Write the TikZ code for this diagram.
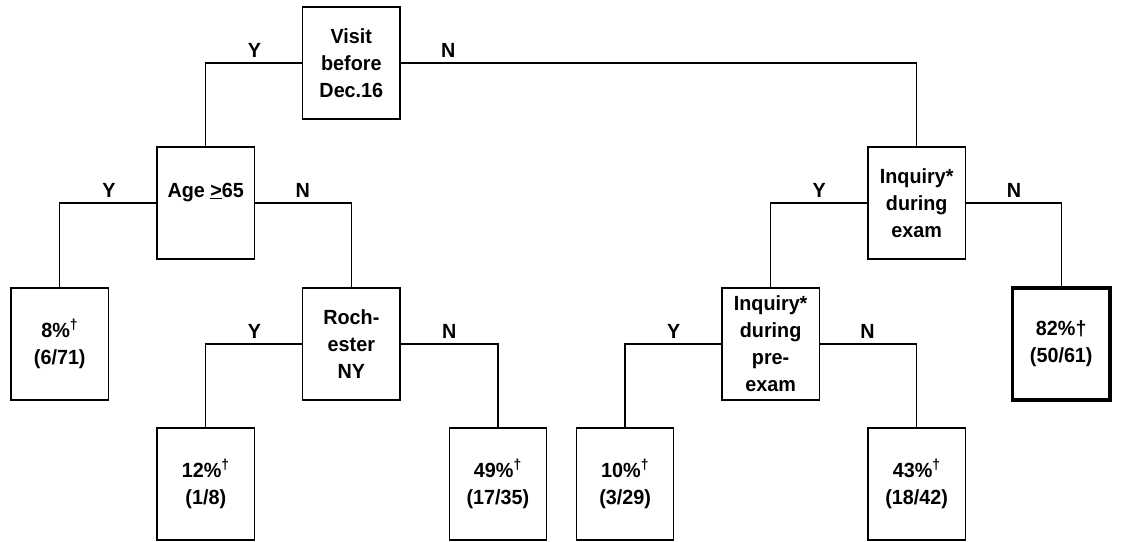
\documentclass[tikz,border=0pt]{standalone}
\usepackage{fontspec}
\setmainfont{Liberation Sans}[FakeStretch=0.964]
\begin{document}
\begin{tikzpicture}[x=0.9639pt,y=-1pt,
  txt/.style={font=\bfseries\fontsize{20.5}{27}\selectfont},
  box/.style={draw, line width=1.3pt, minimum width=97.4pt, minimum height=112pt, inner sep=0pt, align=center, txt},
  thickbox/.style={box, line width=3.3pt},
  lbl/.style={anchor=base, inner sep=0pt, txt},
  conn/.style={line width=1.3pt}]
\useasboundingbox (0,0) rectangle (1191,541);
% decision boxes
\node[box] (visit) at (364.5,63) {Visit\\before\\Dec.16};
\node[box] (age) at (213.5,203) {};
\node[lbl] (agetxt) at (213.5,197) {Age \underline{>}65};
\node[box] (roch) at (364.5,344) {Roch-\\ester\\NY};
\node[box] (inqx) at (951,203) {Inquiry*\\during\\exam};
\node[box] (prex) at (799.5,344) {Inquiry*\\during\\pre-\\exam};
% leaves
\node[box] (l8) at (62,344) {8\%\textsuperscript{†}\\(6/71)};
\node[box] (l12) at (213.5,484) {12\%\textsuperscript{†}\\(1/8)};
\node[box] (l49) at (516.5,484) {49\%\textsuperscript{†}\\(17/35)};
\node[box] (l10) at (648.5,484) {10\%\textsuperscript{†}\\(3/29)};
\node[box] (l43) at (951,484) {43\%\textsuperscript{†}\\(18/42)};
\node[thickbox] (l82) at (1101,344) {82\%†\\(50/61)};
% connectors
\draw[conn] (visit.west) -| (age.north);
\draw[conn] (visit.east) -| (inqx.north);
\draw[conn] (age.west) -| (l8.north);
\draw[conn] (age.east) -| (roch.north);
\draw[conn] (roch.west) -| (l12.north);
\draw[conn] (roch.east) -| (l49.north);
\draw[conn] (inqx.west) -| (prex.north);
\draw[conn] (inqx.east) -| (l82.north);
\draw[conn] (prex.west) -| (l10.north);
\draw[conn] (prex.east) -| (l43.north);
% branch labels
\node[lbl] (vy) at (264,57) {Y};
\node[lbl] (vn) at (465,57) {N};
\node[lbl] (ay) at (113,197) {Y};
\node[lbl] (an) at (314,197) {N};
\node[lbl] (ry) at (264,338) {Y};
\node[lbl] (rn) at (466,338) {N};
\node[lbl] (iy) at (850,197) {Y};
\node[lbl] (in) at (1052,197) {N};
\node[lbl] (py) at (699,338) {Y};
\node[lbl] (pn) at (900,338) {N};
\end{tikzpicture}
\end{document}
